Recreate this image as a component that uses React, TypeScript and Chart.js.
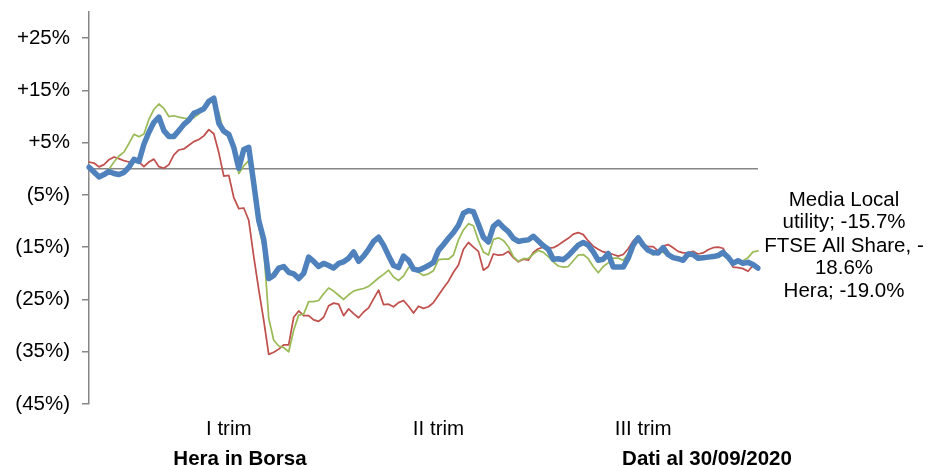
import React, { useEffect, useRef } from 'react';
import { Chart, registerables } from 'chart.js';

Chart.register(...registerables);

// ---- data ----
const seriesNames = ['Hera', 'Media Local utility', 'FTSE All Share'];
const tickLabels = ['I trim', 'II trim', 'III trim'];
const tickIndexes = [28, 70, 111];
const yTickValues = [25, 15, 5, -5, -15, -25, -35, -45];

const hera = [
  0.3, -0.6, -1.55, -1.1, -0.5, -0.9, -1.1, -0.7, 0.3, 1.8,
  1.4, 4.7, 7.0, 8.9, 9.9, 7.3, 6.2, 6.2, 7.3, 8.5,
  9.3, 10.6, 11.0, 11.5, 12.9, 13.5, 8.7, 7.2, 6.6, 4.1,
  0.1, 3.7, 4.1, -2.8, -9.9, -13.5, -21.0, -20.4, -19.0, -18.7,
  -19.8, -20.1, -21.0, -20.0, -16.9, -17.7, -18.7, -18.1, -18.5, -19.0,
  -18.1, -17.8, -17.1, -15.9, -17.7, -16.7, -15.4, -13.9, -13.1, -14.6,
  -16.6, -18.5, -18.9, -16.7, -17.5, -19.2, -19.4, -19.0, -18.5, -17.9,
  -15.6, -14.5, -13.3, -12.2, -10.8, -8.5, -8.0, -8.2, -10.6, -13.1,
  -14.0, -11.0, -10.2, -11.2, -12.0, -13.3, -13.9, -13.7, -13.6, -12.9,
  -13.8, -14.7, -15.4, -17.3, -17.2, -17.4, -16.6, -15.6, -14.6, -14.1,
  -14.6, -15.9, -17.5, -17.3, -16.2, -18.8, -18.8, -18.8, -17.1, -14.6,
  -13.2, -14.6, -15.6, -16.0, -16.1, -15.1, -16.4, -17.0, -17.2, -17.5,
  -16.3, -16.4, -17.1, -17.0, -16.9, -16.8, -16.6, -16.0, -16.9, -18.1,
  -17.6, -18.1, -17.9, -18.3, -19.0,
];

const mediaLocal = [
  0, -1.1, -1.4, -1.0, -0.1, 1.3, 2.45, 3.2, 4.85, 6.6,
  6.15, 6.65, 9.45, 11.35, 12.4, 11.55, 10.0, 10.15, 9.9, 9.7,
  9.6, 9.8, 10.5, 11.6, 12.9, 12.8, 10.8, 6.8, 6.1, 4.3,
  -0.9, 0.55, 1.55, -4.4, -11.1, -15.4, -28.6, -32.8, -33.9, -34.2,
  -35.0, -30.9, -28.0, -27.8, -25.4, -25.4, -25.2, -23.9, -22.8, -23.4,
  -24.2, -25.0, -24.1, -23.4, -23.1, -22.9, -22.5, -21.7, -20.9, -20.2,
  -19.4, -20.7, -21.4, -20.5, -18.9, -18.6, -19.8, -20.4, -20.1, -19.5,
  -17.4, -17.3, -17.3, -16.5, -13.6, -11.7, -10.5, -10.9, -13.7, -15.9,
  -16.5, -13.5, -13.2, -13.7, -14.9, -16.8, -17.7, -17.2, -17.2, -16.3,
  -15.6, -16.0, -16.8, -17.8, -18.6, -18.8, -18.7, -17.6, -16.5, -16.4,
  -17.2, -18.7, -19.9, -18.7, -18.0, -17.1, -17.1, -17.5, -16.3, -14.1,
  -13.3, -14.7, -15.7, -16.5, -15.7, -16.0, -16.6, -17.2, -17.5, -17.3,
  -16.7, -16.0, -16.7, -16.9, -17.0, -17.1, -16.6, -16.5, -17.1, -17.8,
  -17.8, -17.6, -17.0, -15.9, -15.7,
];

const ftseAllShare = [
  1.3, 1.1, 0.36, 0.8, 1.75, 2.25, 1.95, 1.55, 1.3, 1.6,
  1.3, 0.4, 1.3, 1.85, 0.4, 0.1, 0.8, 2.65, 3.6, 3.8,
  4.5, 5.2, 5.6, 6.3, 7.5, 6.7, 3.1, -1.4, -1.26, -5.5,
  -7.6, -7.5, -9.85, -16.8, -23.1, -29.0, -35.5, -35.1, -34.5, -33.7,
  -33.7, -28.4, -27.2, -28.1, -28.1, -28.9, -29.2, -28.4, -26.2, -25.7,
  -25.9, -28.1, -26.8, -27.7, -28.5, -27.4, -26.6, -24.9, -23.2, -26.0,
  -25.9, -26.4, -25.6, -25.2, -26.3, -27.6, -26.3, -26.7, -26.4, -25.6,
  -24.2, -22.8, -21.5, -19.8, -18.4, -15.4, -14.1, -15.0, -15.8, -19.4,
  -18.7, -16.3, -16.5, -16.4, -15.8, -17.0, -17.8, -17.3, -17.5, -16.0,
  -15.3, -15.0, -15.2, -15.1, -14.6, -13.9, -13.3, -12.5, -12.2, -12.6,
  -13.8, -14.8, -15.4, -15.9, -16.1, -16.4, -16.7, -16.4, -15.3, -13.8,
  -12.9, -14.4, -14.9, -14.9, -15.7, -14.8, -14.5, -15.1, -15.8, -16.1,
  -16.1, -15.8, -16.3, -16.1, -15.5, -15.1, -15.0, -15.2, -17.1, -18.8,
  -18.9, -19.1, -19.6, -18.5, -18.6,
];

const endLabelLines = ['Media Local', 'utility; -15.7%', 'FTSE All Share, -', '18.6%', 'Hera; -19.0%'];
const footerLeft = 'Hera in Borsa';
const footerRight = 'Dati al 30/09/2020';

const categories = hera.map((_, i) => {
  const k = tickIndexes.indexOf(i);
  return k >= 0 ? tickLabels[k] : '';
});

const FONT = '"Liberation Sans", Arial, sans-serif';
const FONT_SIZE = 20.5;
const AXIS_GREY = '#868686';

const overlayPlugin = {
  id: 'overlay',
  beforeDatasetsDraw(chart: any) {
    const { ctx, chartArea, scales } = chart;
    const y0 = scales.y.getPixelForValue(0);
    ctx.save();
    ctx.strokeStyle = AXIS_GREY;
    ctx.lineWidth = 1.5;
    ctx.beginPath();
    ctx.moveTo(chartArea.left, y0);
    ctx.lineTo(chartArea.right, y0);
    ctx.stroke();
    ctx.restore();
  },
  afterDraw(chart: any) {
    const { ctx, chartArea } = chart;
    ctx.save();
    ctx.fillStyle = '#000';
    ctx.textAlign = 'center';
    ctx.textBaseline = 'middle';
    ctx.font = `${FONT_SIZE}px ${FONT}`;
    const cx = chartArea.right + 86;
    const ys = [200, 222, 246, 268, 291];
    endLabelLines.forEach((t, i) => ctx.fillText(t, cx, ys[i]));
    ctx.font = `bold ${FONT_SIZE}px ${FONT}`;
    ctx.fillText(footerLeft, 240, 459);
    ctx.fillText(footerRight, 707, 459);
    ctx.restore();
  },
};

export default function App() {
  const ref = useRef<HTMLCanvasElement | null>(null);
  useEffect(() => {
    document.body.style.margin = '0';
    if (!ref.current) return;
    const common = { pointRadius: 0, tension: 0, borderJoinStyle: 'round' as const, borderCapStyle: 'round' as const };
    const chart = new Chart(ref.current, {
      type: 'line',
      data: {
        labels: categories,
        datasets: [
          { label: seriesNames[0], data: hera, borderColor: '#4F81BD', borderWidth: 5.5, order: 0, ...common },
          { label: seriesNames[1], data: mediaLocal, borderColor: '#9BBB59', borderWidth: 1.75, order: 1, ...common },
          { label: seriesNames[2], data: ftseAllShare, borderColor: '#C0504D', borderWidth: 1.75, order: 2, ...common },
        ],
      },
      options: {
        animation: false,
        responsive: false,
        devicePixelRatio: 1,
        layout: { padding: { left: 0, top: 12, right: 173, bottom: 0 } },
        plugins: {
          legend: { display: false },
          tooltip: { enabled: false },
        },
        scales: {
          x: {
            type: 'category',
            grid: { display: false, drawTicks: false },
            border: { display: false },
            ticks: {
              autoSkip: false,
              maxRotation: 0,
              minRotation: 0,
              padding: 13,
              color: '#000',
              font: { family: FONT, size: FONT_SIZE },
            },
            afterFit: (s: any) => {
              s.height = 62;
              s.paddingLeft = 0;
              s.paddingRight = 0;
            },
          },
          y: {
            min: -45,
            max: 30,
            afterBuildTicks: (s: any) => {
              s.ticks = yTickValues.map((v) => ({ value: v }));
            },
            afterFit: (s: any) => {
              s.width = 89;
              s.paddingTop = 0;
              s.paddingBottom = 0;
            },
            grid: {
              drawOnChartArea: false,
              drawTicks: true,
              tickLength: 7,
              color: AXIS_GREY,
              lineWidth: 1.5,
            },
            border: { display: true, color: AXIS_GREY, width: 1.5 },
            ticks: {
              padding: 12,
              color: '#000',
              font: { family: FONT, size: FONT_SIZE },
              callback: (v: any) => (v > 0 ? `+${v}%` : `(${-v}%)`),
            },
          },
        },
      },
      plugins: [overlayPlugin],
    });
    return () => chart.destroy();
  }, []);
  return (
    <div style={{ width: 931, height: 466 }}>
      <canvas ref={ref} width={931} height={466} />
    </div>
  );
}
